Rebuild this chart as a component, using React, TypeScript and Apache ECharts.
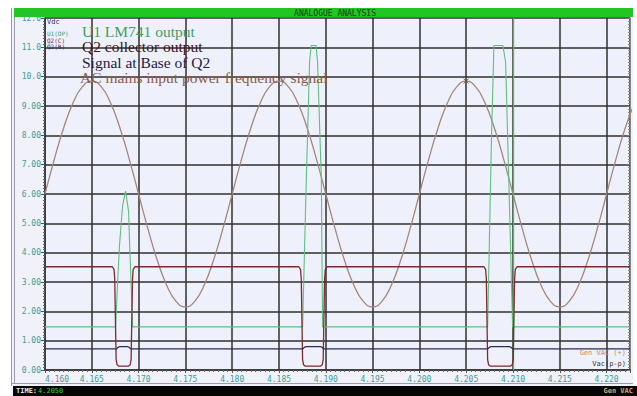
import React, { useEffect, useRef } from 'react';
import * as echarts from 'echarts';

// ---- data ----
const xTicks = ['4.160', '4.165', '4.170', '4.175', '4.180', '4.185', '4.190', '4.195', '4.200', '4.205', '4.210', '4.215', '4.220'];
const acStart = 4.16;
const acStep = 0.001;
const acMains = [
  6.0, 7.19, 8.26, 9.11, 9.66, 9.85, 9.66, 9.11, 8.26, 7.19, 6.0, 4.81, 3.74, 2.89, 2.34, 2.15, 2.34, 2.89, 3.74, 4.81,
  6.0, 7.19, 8.26, 9.11, 9.66, 9.85, 9.66, 9.11, 8.26, 7.19, 6.0, 4.81, 3.74, 2.89, 2.34, 2.15, 2.34, 2.89, 3.74, 4.81,
  6.0, 7.19, 8.26, 9.11, 9.66, 9.85, 9.66, 9.11, 8.26, 7.19, 6.0, 4.81, 3.74, 2.89, 2.34, 2.15, 2.34, 2.89, 3.74, 4.81,
  6.0, 7.19, 8.26, 9.11,
];
const u1Output: [number, number][] = [
  [4.16, 1.47],
  [4.16754, 1.47], [4.16776, 3.0], [4.16797, 4.3], [4.16829, 5.6], [4.16861, 6.1], [4.16893, 5.4], [4.16904, 4.3], [4.16925, 2.5], [4.16936, 1.47],
  [4.18752, 1.47], [4.18792, 6.55], [4.18827, 10.5], [4.18843, 11.06], [4.18896, 11.06], [4.18912, 10.5], [4.18952, 6.55], [4.18966, 1.47],
  [4.20729, 1.47], [4.20768, 7.58], [4.20796, 11.06], [4.20892, 11.06], [4.20921, 10.5], [4.20946, 7.58], [4.20996, 1.47],
  [4.2225, 1.47],
];
const q2Collector: [number, number][] = [
  [4.16, 3.52],
  [4.1672, 3.52], [4.16738, 3.42], [4.16745, 3.1], [4.1676, 0.35], [4.1677, 0.18], [4.1679, 0.13],
  [4.1689, 0.13], [4.1691, 0.18], [4.1692, 0.35], [4.16935, 3.1], [4.16942, 3.42], [4.1696, 3.52],
  [4.18712, 3.52], [4.1873, 3.42], [4.18738, 3.1], [4.18752, 0.35], [4.18762, 0.18], [4.18782, 0.13],
  [4.18942, 0.13], [4.18962, 0.18], [4.18972, 0.35], [4.18987, 3.1], [4.18994, 3.42], [4.19012, 3.52],
  [4.2069, 3.52], [4.20708, 3.42], [4.20715, 3.1], [4.20729, 0.35], [4.20739, 0.18], [4.20759, 0.13],
  [4.20972, 0.13], [4.20992, 0.18], [4.21002, 0.35], [4.21017, 3.1], [4.21024, 3.42], [4.21042, 3.52],
  [4.2225, 3.52],
];
const q2Base: [number, number][] = [
  [4.16, 0.72],
  [4.16765, 0.72], [4.1678, 0.77], [4.168, 0.8], [4.1688, 0.8], [4.169, 0.77], [4.16915, 0.72],
  [4.18755, 0.72], [4.1877, 0.77], [4.1879, 0.8], [4.1894, 0.8], [4.1896, 0.77], [4.18975, 0.72],
  [4.20732, 0.72], [4.20747, 0.77], [4.20767, 0.8], [4.2096, 0.8], [4.2098, 0.77], [4.20995, 0.72],
  [4.2225, 0.72],
];
const cursorTime = 4.205;
const cursorPeak: [number, number][] = [[4.205, 9.85]];

const mono = 'DejaVu Sans Mono';
const serif = 'Liberation Serif';
const teal = '#3b9d9d';

export default function App() {
  const ref = useRef<HTMLDivElement>(null);
  useEffect(() => {
    if (!ref.current) return;
    const chart = echarts.init(ref.current, undefined, { renderer: 'svg' });
    const acData = acMains.map((v, i) => [acStart + i * acStep, v]);
    const note = (text: string, x: number, y: number, fill: string) => ({
      type: 'text', silent: true, z: 100, x, y,
      style: { text, fill, font: `15.5px "${serif}"`, lineHeight: 15, verticalAlign: 'middle' },
    });
    chart.setOption({
      animation: false,
      backgroundColor: '#f1f1f9',
      grid: { left: 45, right: 7, top: 18, bottom: 26, show: true, backgroundColor: '#eef0fb', borderWidth: 0 },
      xAxis: {
        type: 'value', min: 4.16, max: 4.2225, interval: 0.005,
        axisLine: { show: true, lineStyle: { color: '#333', width: 1.5 } },
        axisTick: { show: true, length: 3, lineStyle: { color: '#555' } },
        minorTick: { show: true, splitNumber: 10, length: 2, lineStyle: { color: '#666' } },
        splitLine: { show: true, lineStyle: { color: '#303030', width: 1.5 } },
        axisLabel: {
          color: teal, fontFamily: mono, fontSize: 8, margin: 5, showMaxLabel: false, alignMinLabel: 'left',
          formatter: (v: number) => {
            const k = Math.round((v - 4.16) / 0.005);
            return Math.abs(v - (4.16 + k * 0.005)) < 1e-7 && xTicks[k] ? xTicks[k] : '';
          },
        },
      },
      yAxis: [
        {
          type: 'value', min: 0, max: 12, interval: 1,
          axisLine: { show: true, lineStyle: { color: '#333', width: 1.5 } },
          axisTick: { show: true, length: 4, lineStyle: { color: '#555' } },
          minorTick: { show: true, splitNumber: 10, length: 2, lineStyle: { color: '#666' } },
          splitLine: { show: true, lineStyle: { color: '#303030', width: 1.5 } },
          axisLabel: {
            color: teal, fontFamily: mono, fontSize: 8, margin: 4,
            formatter: (v: number) => (v >= 10 ? v.toFixed(1) : v.toFixed(2)),
          },
        },
        {
          type: 'value', min: 0, max: 12, interval: 1, position: 'right',
          axisLine: { show: true, lineStyle: { color: '#888', width: 1 } },
          axisTick: { show: true, inside: true, length: 3, lineStyle: { color: '#777' } },
          minorTick: { show: true, splitNumber: 10, length: 2, lineStyle: { color: '#888' } },
          splitLine: { show: false },
          axisLabel: { show: false },
        },
      ],
      series: [
        {
          name: 'AC mains', type: 'line', data: acData, smooth: true, showSymbol: false, z: 3,
          lineStyle: { color: '#a3877a', width: 1.3 },
        },
        {
          name: 'U1 LM741 output', type: 'line', data: u1Output, showSymbol: false, z: 4,
          lineStyle: { color: '#5fbf7f', width: 1.1 },
          markLine: {
            silent: true, symbol: 'none', label: { show: false },
            lineStyle: { color: '#4cc24c', width: 1.3, type: 'solid' },
            data: [{ xAxis: cursorTime }],
          },
        },
        {
          name: 'Q2 collector output', type: 'line', data: q2Collector, showSymbol: false, z: 5,
          lineStyle: { color: '#7e2a2e', width: 1.3 },
        },
        {
          name: 'Signal at Base of Q2', type: 'line', data: q2Base, showSymbol: false, z: 5,
          lineStyle: { color: '#2c2c52', width: 1.3 },
        },
        {
          name: 'cursor', type: 'scatter', data: cursorPeak, symbol: 'path://M0 0L10 10M10 0L0 10', symbolSize: 5, z: 6,
          itemStyle: { color: 'none', borderColor: '#5a4038', borderWidth: 1 },
        },
      ],
      graphic: [
        { type: 'rect', silent: true, shape: { x: 0, y: 0, width: 637, height: 8 }, style: { fill: '#ffffff' } },
        { type: 'rect', silent: true, shape: { x: 0, y: 0, width: 11, height: 396 }, style: { fill: '#ffffff' } },
        { type: 'rect', silent: true, shape: { x: 633, y: 0, width: 4, height: 386 }, style: { fill: '#ffffff' } },
        { type: 'line', silent: true, shape: { x1: 11.5, y1: 8, x2: 11.5, y2: 386 }, style: { stroke: '#9a9aaa', lineWidth: 1 } },
        { type: 'line', silent: true, shape: { x1: 14.5, y1: 17, x2: 14.5, y2: 383 }, style: { stroke: '#9a9aaa', lineWidth: 1 } },
        { type: 'line', silent: true, shape: { x1: 11, y1: 383.5, x2: 633, y2: 383.5 }, style: { stroke: '#9a9aaa', lineWidth: 1 } },
        { type: 'rect', silent: true, shape: { x: 14, y: 8, width: 619, height: 9 }, style: { fill: '#22c622' } },
        {
          type: 'text', silent: true, x: 335, y: 13,
          style: { text: 'ANALOGUE ANALYSIS', fill: '#0b3d0b', font: `8px "${mono}"`, align: 'center', verticalAlign: 'middle' },
        },
        { type: 'rect', silent: true, shape: { x: 13, y: 386, width: 624, height: 10 }, style: { fill: '#050505' } },
        {
          type: 'text', silent: true, x: 16, y: 391,
          style: { text: 'TIME:', fill: '#e8e8e8', font: `bold 7px "${mono}"`, verticalAlign: 'middle' },
        },
        {
          type: 'text', silent: true, x: 38, y: 391,
          style: { text: '4.2050', fill: '#3ccf3c', font: `7px "${mono}"`, verticalAlign: 'middle' },
        },
        {
          type: 'text', silent: true, x: 633, y: 391,
          style: { text: 'Gen VAC', fill: '#d9a877', font: `bold 7px "${mono}"`, align: 'right', verticalAlign: 'middle' },
        },
        {
          type: 'text', silent: true, z: 100, x: 626, y: 353,
          style: { text: 'Gen VAC (+)', fill: '#c89058', font: `7px "${mono}"`, align: 'right', verticalAlign: 'middle' },
        },
        {
          type: 'text', silent: true, z: 100, x: 626, y: 364,
          style: { text: 'Vac(p-p)', fill: '#333333', font: `7px "${mono}"`, align: 'right', verticalAlign: 'middle' },
        },
        {
          type: 'text', silent: true, z: 100, x: 47, y: 22,
          style: { text: 'Vdc', fill: '#333333', font: `7px "${mono}"`, verticalAlign: 'middle' },
        },
        {
          type: 'text', silent: true, z: 100, x: 47, y: 33,
          style: { text: 'U1(OP)', fill: '#3f9f60', font: `6px "${mono}"`, lineHeight: 6, verticalAlign: 'middle' },
        },
        {
          type: 'text', silent: true, z: 100, x: 47, y: 40,
          style: { text: 'Q2(C)', fill: '#8a2a2e', font: `6px "${mono}"`, lineHeight: 6, verticalAlign: 'middle' },
        },
        {
          type: 'text', silent: true, z: 100, x: 47, y: 46.5,
          style: { text: 'Q2(B)', fill: '#2c2c52', font: `6px "${mono}"`, lineHeight: 6, verticalAlign: 'middle' },
        },
        note('U1 LM741 output', 82, 31, '#3f9f60'),
        note('Q2 collector output', 82, 46.5, '#3a1414'),
        note('Signal at Base of Q2', 82, 62, '#1c1c4a'),
        note('AC mains input power frequency signal', 80, 77.5, '#8a5c48'),
      ],
    });
    return () => chart.dispose();
  }, []);
  return <div ref={ref} style={{ position: 'fixed', left: 0, top: 0, width: 637, height: 396 }} />;
}
